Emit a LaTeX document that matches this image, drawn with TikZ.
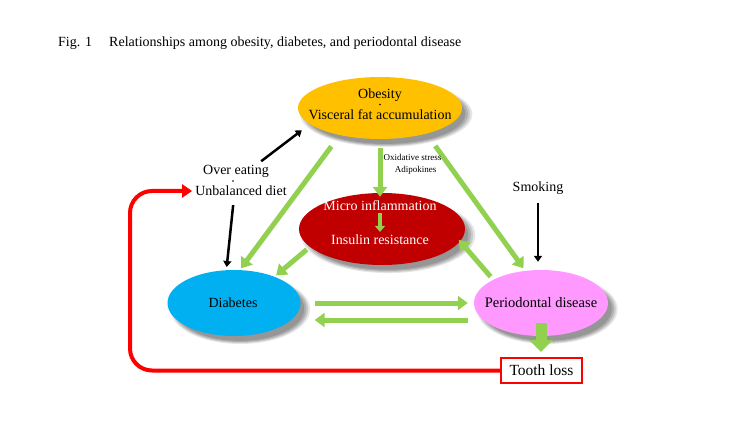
\documentclass[tikz,border=0pt]{standalone}
\usepackage{fontspec}
\setmainfont{Liberation Serif}
\usetikzlibrary{arrows.meta,shadows,shapes.geometric,calc}
\definecolor{cobes}{HTML}{FFC000}
\definecolor{cmicro}{HTML}{C00000}
\definecolor{cdiab}{HTML}{00B0F0}
\definecolor{cperio}{HTML}{FF99FF}
\definecolor{cgreen}{HTML}{92D050}
\definecolor{cred}{HTML}{FF0000}
\begin{document}
\begin{tikzpicture}[x=1pt,y=-1pt,
  ell/.style={ellipse, inner sep=0pt, draw=none,
    general shadow={shadow xshift=6pt, shadow yshift=-6pt, shadow scale=1.05, opacity=0.12, fill=black!80},
    general shadow={shadow xshift=6pt, shadow yshift=-6pt, shadow scale=1.025, opacity=0.15, fill=black!80},
    general shadow={shadow xshift=6pt, shadow yshift=-6pt, shadow scale=1.0, opacity=0.18, fill=black!80},
    general shadow={shadow xshift=6pt, shadow yshift=-6pt, shadow scale=0.97, opacity=0.2, fill=black!80}},
  lbl/.style={font=\fontsize{14}{16}\selectfont, inner sep=1pt},
  small/.style={font=\fontsize{9}{11}\selectfont, inner sep=0.5pt},
  ga/.style={draw=cgreen, line width=5pt, -{Triangle[length=10pt,width=14pt]}},
  gsmall/.style={draw=cgreen, line width=3.5pt, -{Triangle[length=6pt,width=10pt]}},
  gbig/.style={draw=cgreen, line width=11pt, -{Triangle[length=12pt,width=23pt]}},
  ba/.style={draw=black, line width=2.5pt, -{Triangle[length=6pt,width=8pt]}},
  ra/.style={draw=cred, line width=4pt, rounded corners=22pt, -{Triangle[length=10pt,width=13pt]}},
  dotc/.style={circle, fill=black, inner sep=0pt, minimum size=1.6pt}]
\useasboundingbox[fill=white] (0,0) rectangle (750,422);

% title
\node[lbl, anchor=base west] (fig) at (57,47) {Fig. 1};
\node[lbl, anchor=base west] (title) at (108,47) {Relationships among obesity, diabetes, and periodontal disease};

% ellipses
\node[ell, fill=cobes, minimum width=164pt, minimum height=62pt] (obesity) at (380,108) {};
\node[lbl] (ob1) at (380,95) {Obesity};
\node[dotc] (obdot) at (380,104.5) {};
\node[lbl] (ob2) at (380,115) {Visceral fat accumulation};

\node[ell, fill=cmicro, minimum width=166pt, minimum height=72pt] (micro) at (382,229) {};
\node[lbl, text=white] (mi) at (380,206) {Micro inflammation};
\node[lbl, text=white] (ir) at (380,240) {Insulin resistance};

\node[ell, fill=cdiab, minimum width=133pt, minimum height=66pt] (diabetes) at (234,303) {};
\node[lbl] (diabtext) at (233,303) {Diabetes};
\node[ell, fill=cperio, minimum width=134pt, minimum height=66pt] (perio) at (541,303) {};
\node[lbl, font=\fontsize{14.5}{16}\selectfont] (periotext) at (541,303) {Periodontal disease};

\node[draw=cred, line width=2pt, fill=white, minimum width=81pt, minimum height=25pt, inner sep=0pt,
      font=\fontsize{15.5}{17}\selectfont] (tooth) at (541.5,370.5) {Tooth loss};

% side texts
\node[lbl] (oe) at (236,171) {Over eating};
\node[dotc] (oedot) at (233,181) {};
\node[lbl] (ud) at (241,191) {Unbalanced diet};
\node[lbl] (smoking) at (538,188) {Smoking};

% green connectors
\draw[ga, shorten <=9pt, shorten >=-4pt] (obesity.south -| mi.north) -- (micro.north -| mi.north);
\draw[gsmall, shorten <=1pt, shorten >=2pt] (mi.south) -- (ir.north);
\draw[ga, shorten <=14pt, shorten >=2pt] (obesity.214) -- (diabetes.80);
\draw[ga, shorten <=4pt, shorten >=2pt] (micro.194) -- (diabetes.33);
\draw[ga, shorten <=15pt, shorten >=3pt] (obesity.331) -- (perio.116);
\draw[ga, shorten <=4pt, shorten >=-2pt] (perio.154) -- (micro.351);
\draw[ga] ([xshift=14pt]diabetes.east) -- ([xshift=-6pt]perio.west);
\draw[ga] ([xshift=-6pt,yshift=-17pt]perio.west) -- ([xshift=14pt,yshift=-17pt]diabetes.east);
\draw[gbig, shorten <=-13pt, shorten >=5pt] (perio.south) -- (tooth.north -| perio.south);

% small labels on the obesity -> micro arrow
\node[small, anchor=west] (ox) at (383,157) {Oxidative stress};
\node[small] (adipo) at ([xshift=3pt]ox.center |- 0,170) {Adipokines};

% black connectors
\draw[ba, shorten <=4pt, shorten >=10pt] ([xshift=22pt]oe.north) -- (obesity.193);
\draw[ba, shorten <=8pt, shorten >=3pt] ([xshift=-7pt]ud.south) -- (diabetes.103);
\draw[ba, shorten <=7pt, shorten >=8pt] (smoking.south) -- (smoking.south |- perio.north);

% red loop
\coordinate (lc) at (130,330);
\draw[ra, shorten >=2pt] (tooth.west) -- (tooth.west -| lc) -- (lc |- ud.west) -- (ud.west);
\end{tikzpicture}
\end{document}
